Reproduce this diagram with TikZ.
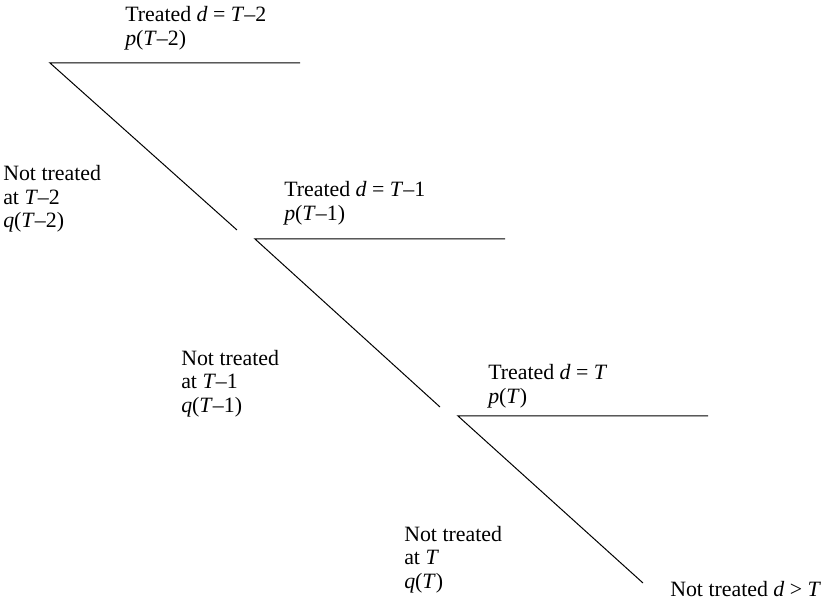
\documentclass[tikz,border=0pt]{standalone}
\usepackage{fontspec}
\setmainfont{Liberation Serif}
\begin{document}
\begin{tikzpicture}[x=0.75pt,y=-0.75pt,
  branch/.style={draw=black,line width=0.75pt},
  lbl/.style={anchor=base west,inner sep=0pt,align=left,
    font=\fontsize{16.4pt}{17.7pt}\selectfont}]
\useasboundingbox (0,0) rectangle (826,602);
% branch points
\coordinate (A1) at (50,63);   \coordinate (B1) at (300,63);  \coordinate (C1) at (237,230);
\coordinate (A2) at (255,239); \coordinate (B2) at (505,239); \coordinate (C2) at (440,407);
\coordinate (A3) at (458,416); \coordinate (B3) at (708,416); \coordinate (C3) at (643,583);
\draw[branch] (B1) -- (A1) -- (C1);
\draw[branch] (B2) -- (A2) -- (C2);
\draw[branch] (B3) -- (A3) -- (C3);
% labels (anchor = baseline of last line)
\node[lbl] (t1) at (125,45.3) {Treated \textit{d} = \textit{T}–2\\\textit{p}(\textit{T}–2)};
\node[lbl] (n1) at (3,228) {Not treated\\at \textit{T}–2\\\textit{q}(\textit{T}–2)};
\node[lbl] (t2) at (284,220.5) {Treated \textit{d} = \textit{T}–1\\\textit{p}(\textit{T}–1)};
\node[lbl] (n2) at (181,412.3) {Not treated\\at \textit{T}–1\\\textit{q}(\textit{T}–1)};
\node[lbl] (t3) at (488,403.2) {Treated \textit{d} = \textit{T}\\\textit{p}(\textit{T})};
\node[lbl] (n3) at (404,588.5) {Not treated\\at \textit{T}\\\textit{q}(\textit{T})};
\node[lbl] (n4) at (670,597) {Not treated \textit{d} > \textit{T}};
\end{tikzpicture}
\end{document}
